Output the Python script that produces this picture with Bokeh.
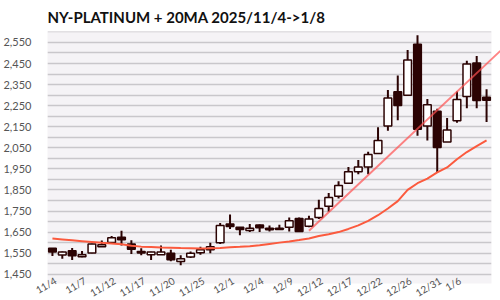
import math
from bokeh.plotting import figure
from bokeh.models import Range1d, FixedTicker, NumeralTickFormatter, ColumnDataSource
from bokeh.core.properties import value
from bokeh.embed import file_html
from bokeh.resources import INLINE

opens  = [1573,1541,1562,1533,1551,1581,1600,1625,1594,1558,1543,1543,1549,1510,1532,1552,1566,1599,1688,1673,
          1658,1684,1668,1668,1673,1715,1678,1719,1773,1820,1882,1936,1959,2023,2153,2316,2299,2541,2153,2224,
          2077,2178,2294,2452,2290]
highs  = [1575,1558,1574,1560,1595,1610,1631,1656,1611,1573,1557,1586,1566,1540,1558,1581,1599,1693,1734,1673,
          1688,1686,1681,1685,1719,1719,1727,1804,1835,1891,1959,1992,2031,2147,2324,2393,2514,2584,2282,2235,
          2192,2317,2463,2486,2328]
lows   = [1536,1524,1518,1531,1550,1580,1594,1586,1546,1540,1517,1543,1512,1493,1527,1543,1550,1593,1665,1635,
          1650,1650,1653,1661,1653,1653,1673,1712,1747,1809,1879,1925,1925,2023,2131,2181,2297,2107,2085,1933,
          2077,2169,2238,2238,2173]
closes = [1556,1556,1538,1542,1593,1590,1623,1614,1568,1551,1556,1556,1519,1524,1550,1566,1581,1681,1677,1662,
          1668,1670,1661,1662,1704,1653,1712,1762,1814,1871,1936,1959,2018,2085,2286,2251,2467,2138,2254,2052,
          2135,2279,2448,2274,2276]
ma20   = [1619,1615,1611,1607,1603,1599,1596,1592,1585,1581,1579,1577,1576,1574,1573,1572,1573,1575,1578,1580,
          1583,1588,1594,1600,1605,1612,1620,1631,1640,1650,1665,1682,1703,1730,1762,1797,1850,1882,1904,1933,
          1957,1996,2030,2058,2085]
trend_idx = [26, 45.4]
trend_val = [1656, 2510]
tick_idx = [0, 3, 6, 9, 12, 15, 18, 21, 24, 27, 30, 33, 36, 39, 41]
tick_labels = ["11/4", "11/7", "11/12", "11/17", "11/20", "11/25", "12/1", "12/4",
               "12/9", "12/12", "12/17", "12/22", "12/26", "12/31", "1/6"]
y_ticks = [1450, 1550, 1650, 1750, 1850, 1950, 2050, 2150, 2250, 2350, 2450, 2550]

DARK = "#2b0303"
X0, X1 = -0.5, 44.5
Y0, Y1 = 1406, 2602

idx = list(range(len(opens)))
up = [c >= o for o, c in zip(opens, closes)]
src = ColumnDataSource(dict(
    x=idx, high=highs, low=lows,
    top=[max(o, c) for o, c in zip(opens, closes)],
    bottom=[min(o, c) for o, c in zip(opens, closes)],
    fill=["#ffffff" if u else DARK for u in up],
))

p = figure(width=500, height=300, output_backend="svg", toolbar_location=None,
           x_range=Range1d(X0, X1), y_range=Range1d(Y0, Y1),
           min_border_left=44, min_border_right=9, min_border_bottom=17, min_border_top=26,
           background_fill_color="#f5f3f6", border_fill_color="#ffffff")
p.outline_line_color = None

p.title.text = "NY-PLATINUM + 20MA 2025/11/4->1/8"
p.title.text_font = "Lato"
p.title.text_font_style = "bold"
p.title.text_font_size = "15px"
p.title.text_color = "#111111"
p.title.align = "left"
p.title.standoff = 11

p.xgrid.grid_line_color = None
p.ygrid.ticker = FixedTicker(ticks=list(range(1450, 2601, 50)))
p.ygrid.grid_line_color = "#c9c7cb"
p.ygrid.grid_line_width = 1.5

yax = p.yaxis[0]
yax.ticker = FixedTicker(ticks=y_ticks)
yax.formatter = NumeralTickFormatter(format="0,0")
yax.axis_line_color = None
yax.major_tick_line_color = None
yax.minor_tick_line_color = None
yax.major_label_text_font = "Lato"
yax.major_label_text_font_size = "11px"
yax.major_label_text_color = "#555555"
yax.major_label_standoff = 10
p.xaxis.visible = False

p.segment(x0="x", y0="high", x1="x", y1="low", source=src, line_color=DARK, line_width=2)
p.vbar(x="x", width=0.78, top="top", bottom="bottom", source=src,
       fill_color="fill", line_color=DARK, line_width=1.5)
p.line(idx, ma20, line_color="#fb5a3e", line_width=2)
# trend line runs on past the plot area to the picture's edge, as in the reference
p.line(trend_idx, trend_val, line_color="#ff5050", line_alpha=0.7, line_width=2, level="overlay")

# rotated date labels under the plot area, drawn on the overlay level so they are not clipped
p.text(x=tick_idx, y=[Y0] * len(tick_idx), text=tick_labels, angle=math.pi / 6,
       x_offset=0, y_offset=-9, text_align="right", text_baseline="top",
       text_font=value("Lato"), text_font_size="10px", text_color="#555555",
       level="overlay")

open("out.html", "w").write(file_html(p, INLINE))
